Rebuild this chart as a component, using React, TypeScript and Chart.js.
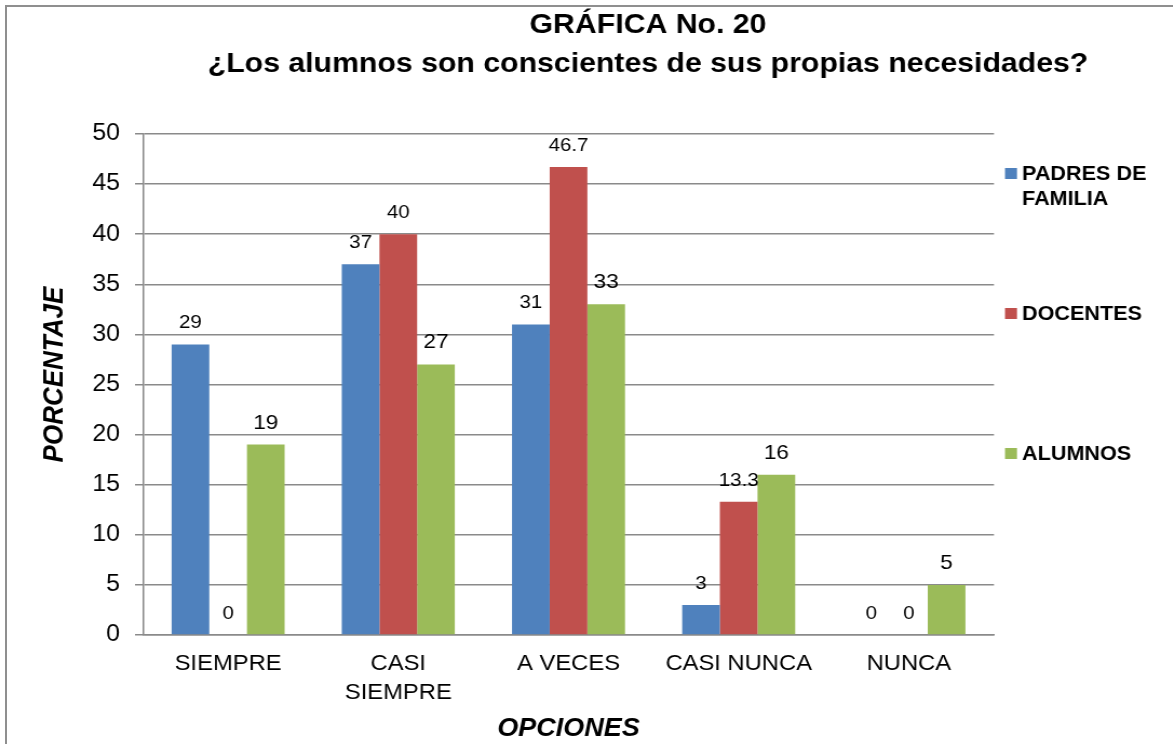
import { useEffect, useRef } from 'react';
import { Chart, registerables } from 'chart.js';

Chart.register(...registerables);

// ---- data ----
const CATEGORIES: (string | string[])[] = ['SIEMPRE', ['CASI', 'SIEMPRE'], 'A VECES', 'CASI NUNCA', 'NUNCA'];
const PADRES = [29, 37, 31, 3, 0];
const DOCENTES = [0, 40, 46.7, 13.3, 0];
const ALUMNOS = [19, 27, 33, 16, 5];
const SERIES_LABELS = ['PADRES DE FAMILIA', 'DOCENTES', 'ALUMNOS'];
const LEGEND_LINES = [['PADRES DE', 'FAMILIA'], ['DOCENTES'], ['ALUMNOS']];
const TITLE_LINES = ['GRÁFICA No. 20', '¿Los alumnos son conscientes de sus propias necesidades?'];
const X_TITLE = 'OPCIONES';
const Y_TITLE = 'PORCENTAJE';
const Y_MIN = 0;
const Y_MAX = 50;
const Y_STEP = 5;

// ---- styles ----
const COLORS = ['#4F81BD', '#C0504D', '#9BBB59'];
const LABEL_SIZES = [19, 19, 21];
const GRID = '#8a8a8a';
const FONT = '"Liberation Sans", Arial, Helvetica, sans-serif';
const SX = 1.08; // horizontal stretch of the original picture
const CW = 1200;
const CH = 744;
const px = (x: number) => x / SX;

const textPlugin = {
  id: 'texts',
  afterDatasetsDraw(chart: any) {
    const ctx = chart.ctx;
    ctx.save();
    ctx.textAlign = 'center';
    ctx.textBaseline = 'alphabetic';
    ctx.fillStyle = '#000';
    chart.data.datasets.forEach((ds: any, i: number) => {
      const meta = chart.getDatasetMeta(i);
      ctx.font = `${LABEL_SIZES[i]}px ${FONT}`;
      meta.data.forEach((el: any, j: number) => {
        ctx.fillText(String(ds.data[j]), el.x, el.y - 16);
      });
    });
    ctx.restore();
  },
  afterDraw(chart: any) {
    const { ctx, chartArea } = chart;
    ctx.save();
    ctx.fillStyle = '#000';
    ctx.textAlign = 'center';
    ctx.textBaseline = 'alphabetic';
    ctx.font = `bold 28px ${FONT}`;
    ctx.fillText(TITLE_LINES[0], chart.width / 2, 33);
    ctx.fillText(TITLE_LINES[1], chart.width / 2, 72);

    ctx.font = `italic bold 25px ${FONT}`;
    ctx.fillText(X_TITLE, (chartArea.left + chartArea.right) / 2, 736);

    ctx.save();
    ctx.translate(px(62.5), (chartArea.top + chartArea.bottom) / 2 - 10);
    ctx.rotate(-Math.PI / 2);
    ctx.font = `italic bold 26px ${FONT}`;
    ctx.fillText(Y_TITLE, 0, 0);
    ctx.restore();

    // legend
    ctx.textAlign = 'left';
    ctx.font = `bold 20px ${FONT}`;
    LEGEND_LINES.forEach((lines, i) => {
      const base = 180 + i * 140;
      ctx.fillStyle = COLORS[i];
      ctx.fillRect(px(1005), base - 12, px(12), 11);
      ctx.fillStyle = '#000';
      lines.forEach((t, k) => ctx.fillText(t, px(1022), base + k * 24.5));
    });
    ctx.restore();
  },
};

export default function App() {
  const ref = useRef<HTMLCanvasElement | null>(null);

  useEffect(() => {
    if (!ref.current) return;
    const chart = new Chart(ref.current, {
      type: 'bar',
      data: {
        labels: CATEGORIES as any,
        datasets: [PADRES, DOCENTES, ALUMNOS].map((d, i) => ({
          label: SERIES_LABELS[i],
          data: d,
          backgroundColor: COLORS[i],
          borderWidth: 0,
          barPercentage: 1,
          categoryPercentage: 0.664,
        })),
      },
      options: {
        responsive: false,
        animation: false,
        devicePixelRatio: 1,
        layout: { padding: { left: 0, top: 134, right: CW - px(994), bottom: 0 } },
        plugins: {
          legend: { display: false },
          title: { display: false },
          tooltip: { enabled: false },
        },
        scales: {
          x: {
            grid: { display: false, drawTicks: false, tickLength: 0 },
            border: { display: true, color: GRID, width: 1.5 },
            ticks: {
              color: '#000',
              font: { family: FONT, size: 22, lineHeight: 1.3 },
              padding: 15,
              maxRotation: 0,
              autoSkip: false,
            },
            afterFit: (s: any) => {
              s.height = CH - 635;
            },
          },
          y: {
            min: Y_MIN,
            max: Y_MAX,
            ticks: {
              stepSize: Y_STEP,
              color: '#000',
              font: { family: FONT, size: 23 },
              padding: 14,
            },
            grid: { color: GRID, lineWidth: 1.5, tickLength: px(8) },
            border: { display: true, color: GRID, width: 1.5 },
            afterFit: (s: any) => {
              s.width = px(143);
            },
          },
        },
      },
      plugins: [textPlugin],
    });
    return () => chart.destroy();
  }, []);

  return (
    <div
      style={{
        position: 'fixed',
        left: 0,
        top: 0,
        width: 1173,
        height: 744,
        overflow: 'hidden',
        background: '#fff',
      }}
    >
      <div
        style={{
          position: 'absolute',
          left: 5,
          top: 5,
          width: 1400,
          height: 900,
          border: '2px solid #8f8f8f',
          boxSizing: 'border-box',
        }}
      />
      <canvas
        ref={ref}
        width={CW}
        height={CH}
        style={{
          position: 'absolute',
          left: 0,
          top: 0,
          width: CW,
          height: CH,
          transform: `scaleX(${SX})`,
          transformOrigin: '0 0',
        }}
      />
    </div>
  );
}
